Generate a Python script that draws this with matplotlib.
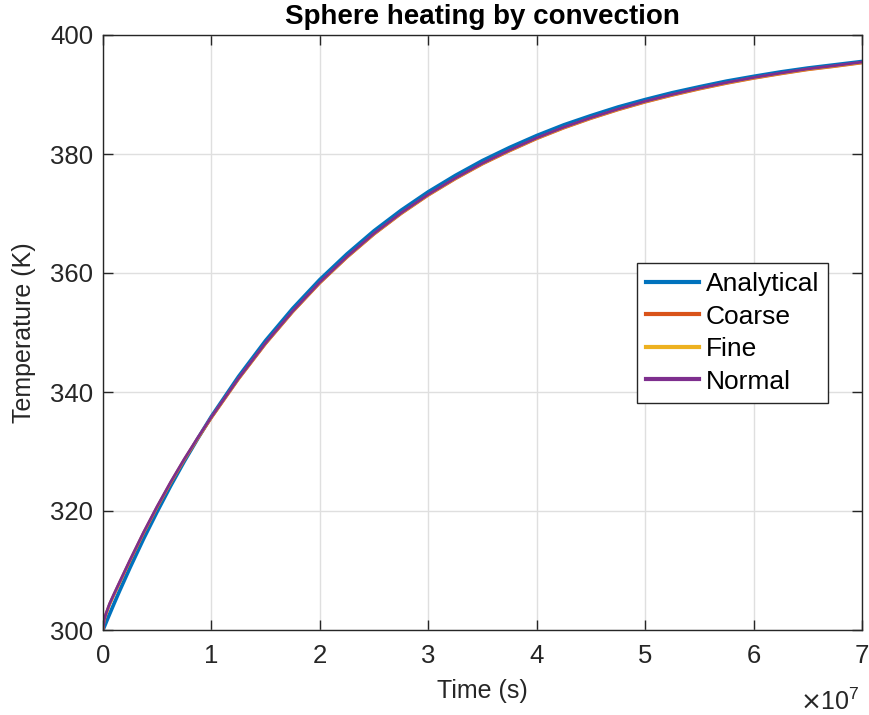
import matplotlib
matplotlib.use("Agg")
import matplotlib.pyplot as plt

plt.rcParams['font.family'] = ['Liberation Sans', 'DejaVu Sans']

# Time in units of 1e7 s
t_analytical = [0, 0.05, 0.1, 0.15, 0.25, 0.375, 0.5, 0.625, 0.75, 0.875, 1.0,
                1.25, 1.5, 1.75, 2.0, 2.25, 2.5, 2.75, 3.0, 3.25, 3.5, 3.75, 4.0,
                4.25, 4.5, 4.75, 5.0, 5.25, 5.5, 5.75, 6.0, 6.25, 6.5, 6.75, 7.0]
T_analytical = [300.0, 302.2, 304.35, 306.45, 310.5, 315.35, 319.9, 324.25, 328.35,
                332.2, 335.9, 342.6, 348.65, 354.05, 358.9, 363.2, 367.1, 370.55,
                373.65, 376.4, 378.9, 381.1, 383.1, 384.9, 386.45, 387.9, 389.15,
                390.3, 391.3, 392.25, 393.05, 393.8, 394.45, 395.0, 395.55]

t_num = [0, 0.01, 0.03, 0.06, 0.1, 0.15, 0.25, 0.375, 0.5, 0.625, 0.75, 0.875, 1.0,
         1.25, 1.5, 1.75, 2.0, 2.25, 2.5, 2.75, 3.0, 3.25, 3.5, 3.75, 4.0, 4.25,
         4.5, 4.75, 5.0, 5.25, 5.5, 5.75, 6.0, 6.25, 6.5, 6.75, 7.0]
T_normal = [300.0, 301.7, 302.9, 304.4, 306.0, 307.95, 311.8, 316.45, 320.8, 324.9,
            328.75, 332.35, 335.8, 342.3, 348.25, 353.6, 358.45, 362.75, 366.65,
            370.1, 373.2, 375.95, 378.45, 380.65, 382.7, 384.5, 386.1, 387.55,
            388.85, 390.0, 391.05, 392.0, 392.85, 393.6, 394.3, 394.85, 395.45]
T_coarse = [300.0, 301.55, 302.75, 304.25, 305.85, 307.8, 311.65, 316.3, 320.65,
            324.75, 328.6, 332.2, 335.65, 342.15, 348.1, 353.45, 358.3, 362.6, 366.5,
            369.95, 373.05, 375.8, 378.3, 380.5, 382.55, 384.35, 385.95, 387.4,
            388.7, 389.85, 390.9, 391.85, 392.7, 393.45, 394.15, 394.7, 395.3]
T_fine = [300.0, 301.62, 302.82, 304.32, 305.92, 307.87, 311.72, 316.37, 320.72,
          324.82, 328.67, 332.27, 335.72, 342.22, 348.17, 353.52, 358.37, 362.67,
          366.57, 370.02, 373.12, 375.87, 378.37, 380.57, 382.62, 384.42, 386.02,
          387.47, 388.77, 389.92, 390.97, 391.92, 392.77, 393.52, 394.22, 394.77,
          395.37]

series_names = ['Analytical', 'Coarse', 'Fine', 'Normal']
colors = ['#0072BD', '#D95319', '#EDB120', '#7E2F8E']

x_ticks = [0, 1, 2, 3, 4, 5, 6, 7]
y_ticks = [300, 320, 340, 360, 380, 400]

fig = plt.figure(figsize=(8.69, 7.15), dpi=100)
ax = fig.add_axes([103/869, 85/715, 759/869, 595/715])

scale = 1e7
ax.plot([v * scale for v in t_analytical], T_analytical, color=colors[0], lw=2.6,
        label=series_names[0], solid_joinstyle='round')
ax.plot([v * scale for v in t_num], T_coarse, color=colors[1], lw=2.0,
        label=series_names[1], solid_joinstyle='round')
ax.plot([v * scale for v in t_num], T_fine, color=colors[2], lw=2.0,
        label=series_names[2], solid_joinstyle='round')
ax.plot([v * scale for v in t_num], T_normal, color=colors[3], lw=2.0,
        label=series_names[3], solid_joinstyle='round')

ax.set_xlim(0, 7 * scale)
ax.set_ylim(300, 400)
ax.set_xticks([v * scale for v in x_ticks])
ax.set_xticklabels([str(v) for v in x_ticks])
ax.set_yticks(y_ticks)
ax.set_yticklabels([str(v) for v in y_ticks])

axis_col = '#262626'
ax.grid(True, color='#DFDFDF', lw=1.0)
ax.set_axisbelow(True)
for s in ax.spines.values():
    s.set_color(axis_col)
    s.set_linewidth(1.0)
ax.tick_params(direction='in', top=True, right=True, length=7, width=1.0,
               colors=axis_col, labelcolor=axis_col, labelsize=18.5)
ax.tick_params(axis='x', pad=10)
ax.tick_params(axis='y', pad=7)

ax.set_title('Sphere heating by convection', fontsize=20, fontweight='bold',
             color='black', pad=8)
ax.set_xlabel('Time (s)', fontsize=18, color=axis_col, labelpad=8)
ax.set_ylabel('Temperature (K)', fontsize=18, color=axis_col, labelpad=10)

fig.text(860/869, 1 - 702/715, r'$\times\mathregular{10^{7}}$', ha='right', va='center',
         fontsize=18, color=axis_col)

leg = ax.legend(loc='upper left', bbox_to_anchor=((637-103)/759, (630-263)/595),
                fontsize=19, frameon=True, fancybox=False, edgecolor=axis_col,
                handlelength=2.0, handletextpad=0.25, borderpad=0.35, labelspacing=0.32,
                borderaxespad=0, framealpha=1)
leg.get_frame().set_linewidth(1.0)
for line in leg.get_lines():
    line.set_linewidth(3.0)

fig.savefig('out.png', dpi=100)
